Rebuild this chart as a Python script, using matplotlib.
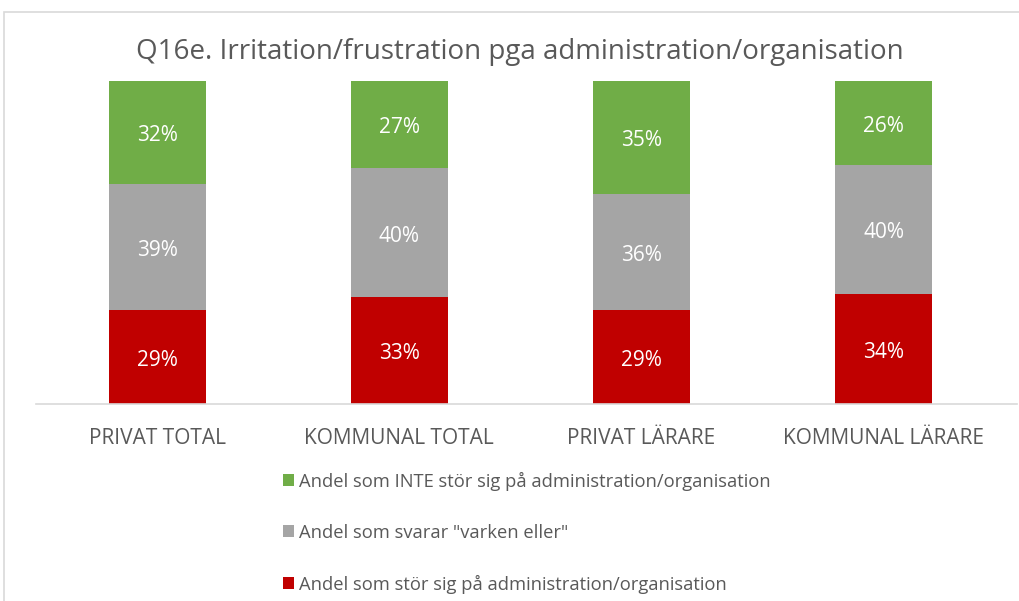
import numpy as np
import matplotlib.pyplot as plt
from matplotlib.patches import Rectangle

plt.rcParams['font.family'] = ['Open Sans', 'DejaVu Sans']

categories = ['PRIVAT TOTAL', 'KOMMUNAL TOTAL', 'PRIVAT LÄRARE', 'KOMMUNAL LÄRARE']
stor = [29, 33, 29, 34]
varken = [39, 40, 36, 40]
inte_stor = [32, 27, 35, 26]
series_labels = ['Andel som INTE stör sig på administration/organisation',
                 'Andel som svarar "varken eller"',
                 'Andel som stör sig på administration/organisation']
title = 'Q16e. Irritation/frustration pga administration/organisation'

text_col = '#595959'
fig = plt.figure(figsize=(10.19, 6.01), dpi=100)
fig.patches.append(Rectangle((4 / 1019, -0.1), 1.2, 1 - 12 / 601 + 0.1,
                             transform=fig.transFigure, fill=False,
                             edgecolor='#D9D9D9', linewidth=1.2))

ax = fig.add_axes([36 / 1019, 1 - 404 / 601, (1017 - 36) / 1019, 323 / 601])
x = np.arange(len(categories))
w = 0.4
bottoms = np.zeros(len(categories))
bars = []
for vals, col in [(stor, '#C00000'), (varken, '#A5A5A5'), (inte_stor, '#70AD47')]:
    vals = np.array(vals)
    b = ax.bar(x, vals, w, bottom=bottoms, color=col)
    for xi, v, bt in zip(x, vals, bottoms):
        ax.text(xi, bt + v / 2 - 1, f'{v}%', ha='center', va='center',
                color='white', fontsize=15)
    bars.append(b)
    bottoms += vals

ax.set_ylim(0, 100)
ax.set_xlim(-0.5, 3.55)
ax.set_yticks([])
for s in ['top', 'right', 'left']:
    ax.spines[s].set_visible(False)
ax.spines['bottom'].set_color('#D9D9D9')
ax.spines['bottom'].set_linewidth(1.2)
ax.set_xticks(x)
ax.set_xticklabels(categories, fontsize=15, color=text_col)
ax.tick_params(axis='x', length=0, pad=17)

fig.text(520 / 1019, 1 - 52 / 601, title, ha='center', va='center',
         fontsize=20, color=text_col)

fig.legend([bars[2], bars[1], bars[0]], series_labels,
           loc='upper left', bbox_to_anchor=(266 / 1019, 1 - 455 / 601),
           frameon=False, fontsize=13.2, labelcolor=text_col,
           handlelength=0.6, handleheight=0.6, handletextpad=0.3,
           labelspacing=1.8)

plt.savefig('out.png', dpi=100)
